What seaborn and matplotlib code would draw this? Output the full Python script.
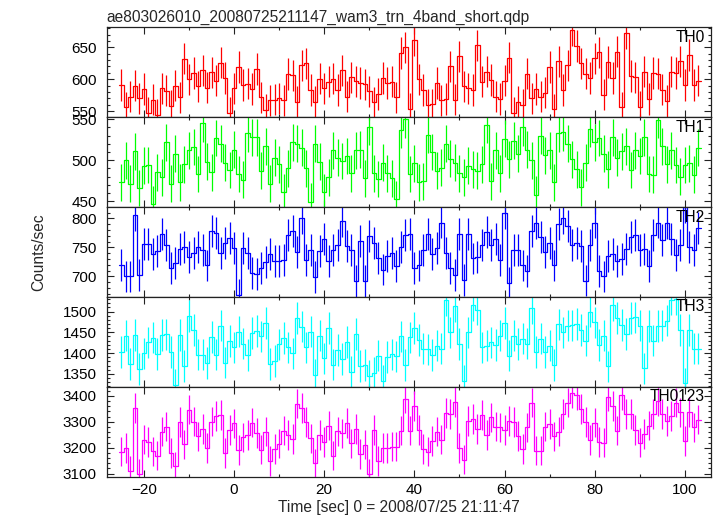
import numpy as np
import matplotlib
matplotlib.use("Agg")
import matplotlib.pyplot as plt
from matplotlib.ticker import MultipleLocator
import seaborn as sns

# 1 s bins, centres from -25 to 103 s
time = np.arange(-25, 104)

th0 = [591, 556, 573, 590, 570, 585, 548, 568, 544, 586,
       582, 558, 590, 572, 632, 600, 610, 589, 614, 587,
       611, 598, 626, 602, 547, 586, 619, 591, 593, 585,
       616, 572, 552, 567, 568, 570, 567, 608, 606, 565,
       622, 625, 583, 565, 601, 586, 596, 601, 583, 614,
       573, 603, 597, 594, 592, 581, 564, 577, 602, 594,
       596, 572, 641, 650, 554, 661, 600, 583, 560, 561,
       594, 567, 569, 620, 568, 636, 589, 586, 583, 653,
       596, 612, 599, 573, 569, 598, 634, 547, 565, 560,
       609, 570, 585, 573, 579, 619, 553, 628, 583, 622,
       677, 652, 625, 609, 602, 633, 642, 576, 627, 602,
       643, 556, 672, 605, 603, 557, 612, 569, 610, 609,
       584, 566, 612, 610, 628, 591, 638, 591, 598]

th1 = [473, 500, 471, 511, 466, 493, 494, 446, 485, 479,
       522, 471, 508, 473, 495, 512, 516, 483, 545, 498,
       485, 527, 520, 497, 488, 513, 483, 476, 533, 528,
       528, 487, 517, 471, 503, 495, 461, 490, 522, 520,
       515, 490, 449, 520, 498, 461, 479, 512, 503, 499,
       505, 484, 512, 513, 478, 541, 484, 477, 497, 484,
       478, 452, 537, 550, 483, 496, 473, 474, 531, 510,
       487, 491, 520, 502, 497, 484, 479, 493, 489, 487,
       495, 543, 474, 512, 484, 526, 501, 524, 508, 540,
       513, 500, 458, 530, 506, 512, 473, 533, 534, 520,
       501, 489, 467, 497, 538, 522, 527, 508, 489, 528,
       503, 511, 517, 488, 512, 505, 528, 483, 482, 549,
       517, 495, 512, 494, 480, 494, 496, 482, 515]

th2 = [720, 700, 700, 806, 703, 756, 756, 738, 744, 774,
       754, 715, 724, 748, 751, 734, 741, 751, 745, 719,
       779, 775, 741, 758, 767, 749, 668, 749, 740, 706,
       704, 714, 725, 738, 727, 726, 728, 771, 779, 742,
       801, 729, 745, 699, 744, 764, 727, 746, 754, 796,
       752, 745, 692, 761, 692, 770, 758, 732, 712, 736,
       740, 718, 751, 771, 773, 714, 719, 745, 774, 738,
       749, 793, 740, 714, 703, 774, 694, 774, 731, 734,
       754, 776, 754, 764, 728, 809, 688, 745, 745, 719,
       710, 778, 792, 768, 742, 758, 719, 791, 800, 787,
       755, 757, 752, 693, 754, 793, 710, 700, 735, 738,
       726, 730, 748, 768, 771, 745, 747, 718, 771, 793,
       763, 792, 764, 737, 754, 819, 751, 745, 784]

th3 = [1403, 1442, 1374, 1444, 1361, 1399, 1426, 1437, 1398, 1444,
       1445, 1403, 1323, 1444, 1369, 1490, 1456, 1396, 1396, 1376,
       1439, 1396, 1466, 1377, 1429, 1414, 1452, 1423, 1395, 1448,
       1453, 1440, 1473, 1374, 1381, 1421, 1436, 1414, 1399, 1485,
       1464, 1414, 1452, 1347, 1442, 1387, 1460, 1372, 1408, 1386,
       1427, 1355, 1446, 1369, 1371, 1345, 1352, 1394, 1333, 1391,
       1397, 1392, 1440, 1371, 1438, 1460, 1432, 1411, 1409, 1395,
       1418, 1411, 1527, 1450, 1514, 1422, 1333, 1450, 1516, 1505,
       1414, 1418, 1426, 1420, 1442, 1473, 1394, 1442, 1422, 1435,
       1423, 1508, 1403, 1435, 1402, 1418, 1371, 1469, 1450, 1466,
       1467, 1470, 1456, 1430, 1500, 1474, 1419, 1442, 1368, 1516,
       1484, 1468, 1446, 1484, 1486, 1466, 1363, 1465, 1430, 1465,
       1466, 1478, 1529, 1531, 1456, 1327, 1456, 1411, 1411]

th0123 = [3185, 3198, 3112, 3354, 3100, 3231, 3223, 3186, 3170, 3262,
          3281, 3180, 3128, 3300, 3213, 3347, 3301, 3244, 3272, 3200,
          3301, 3323, 3327, 3179, 3269, 3294, 3191, 3240, 3250, 3297,
          3257, 3193, 3262, 3148, 3195, 3216, 3266, 3250, 3234, 3370,
          3352, 3300, 3236, 3140, 3249, 3223, 3285, 3170, 3263, 3255,
          3295, 3217, 3272, 3176, 3212, 3098, 3268, 3148, 3199, 3199,
          3204, 3204, 3266, 3389, 3266, 3361, 3269, 3195, 3185, 3227,
          3262, 3231, 3333, 3329, 3377, 3198, 3154, 3304, 3310, 3272,
          3326, 3250, 3317, 3281, 3278, 3268, 3304, 3300, 3246, 3195,
          3278, 3374, 3189, 3189, 3281, 3291, 3244, 3262, 3329, 3374,
          3410, 3404, 3349, 3300, 3230, 3297, 3223, 3220, 3397, 3361,
          3266, 3403, 3329, 3329, 3269, 3220, 3253, 3285, 3329, 3381,
          3329, 3304, 3323, 3374, 3336, 3227, 3338, 3278, 3308]

# approx. 1-sigma error bar half-heights
errors = [24.5, 22.5, 27.5, 38, 57]
names = ["TH0", "TH1", "TH2", "TH3", "TH0123"]
colors = ["#ff0000", "#00ff00", "#0000ff", "#00ffff", "#ff00ff"]

sns.set_theme(style="ticks")
plt.rcParams["font.family"] = ["Liberation Sans", "DejaVu Sans"]

fig, axes = plt.subplots(5, 1, sharex=True, figsize=(7.17, 5.16), dpi=100)
fig.subplots_adjust(left=106.5 / 717, right=711 / 717,
                    top=1 - 27.3 / 516, bottom=1 - 476.7 / 516, hspace=0)

ylims = [(540.7, 681.3), (442.7, 552.5), (664.7, 819.7), (1318.6, 1535.4), (3088.4, 3434.6)]
majors = [50, 50, 50, 50, 100]
minors = [10, 10, 10, 10, 20]

series = [th0, th1, th2, th3, th0123]

for i, ax in enumerate(axes):
    vals = np.asarray(series[i], dtype=float)
    col = colors[i]
    # step light curve, 1 s bins centred on the time stamps
    sns.histplot(x=time, weights=vals, binwidth=1, binrange=(time[0] - 0.5, time[-1] + 0.5),
                 element="step", fill=False, color=col, linewidth=0.9, ax=ax)
    ax.vlines(time, vals - errors[i], vals + errors[i], color=col, linewidth=0.9)

    ax.set_xlim(-28.3, 105.8)
    ax.set_ylim(*ylims[i])
    ax.set_xlabel("")
    ax.set_ylabel("")
    ax.xaxis.set_major_locator(MultipleLocator(20))
    ax.xaxis.set_minor_locator(MultipleLocator(10))
    ax.yaxis.set_major_locator(MultipleLocator(majors[i]))
    ax.yaxis.set_minor_locator(MultipleLocator(minors[i]))
    ax.tick_params(which="both", direction="in", top=True, right=True,
                   color="#222222", width=0.8, labelsize=11, labelcolor="black")
    ax.tick_params(which="major", length=4.8)
    ax.tick_params(which="minor", length=2.4)
    ax.tick_params(axis="y", pad=7)
    ax.tick_params(axis="x", pad=4.5)
    for sp in ax.spines.values():
        sp.set_color("#222222")
        sp.set_linewidth(0.9)

    ax.text(1 - 6 / 604.5, 1 - 2.5 / 89.9, names[i], transform=ax.transAxes,
            ha="right", va="top", fontsize=11.2, color="black")

axes[0].set_title("ae803026010_20080725211147_wam3_trn_4band_short.qdp",
                  loc="left", fontsize=11.2, pad=4)
fig.text(0.054, 0.512, "Counts/sec", rotation=90, ha="center", va="center", fontsize=11.2)
fig.text(0.557, 0.0072, "Time [sec] 0 = 2008/07/25 21:11:47",
         ha="center", va="baseline", fontsize=11.2)

fig.savefig("out.png", dpi=100)
